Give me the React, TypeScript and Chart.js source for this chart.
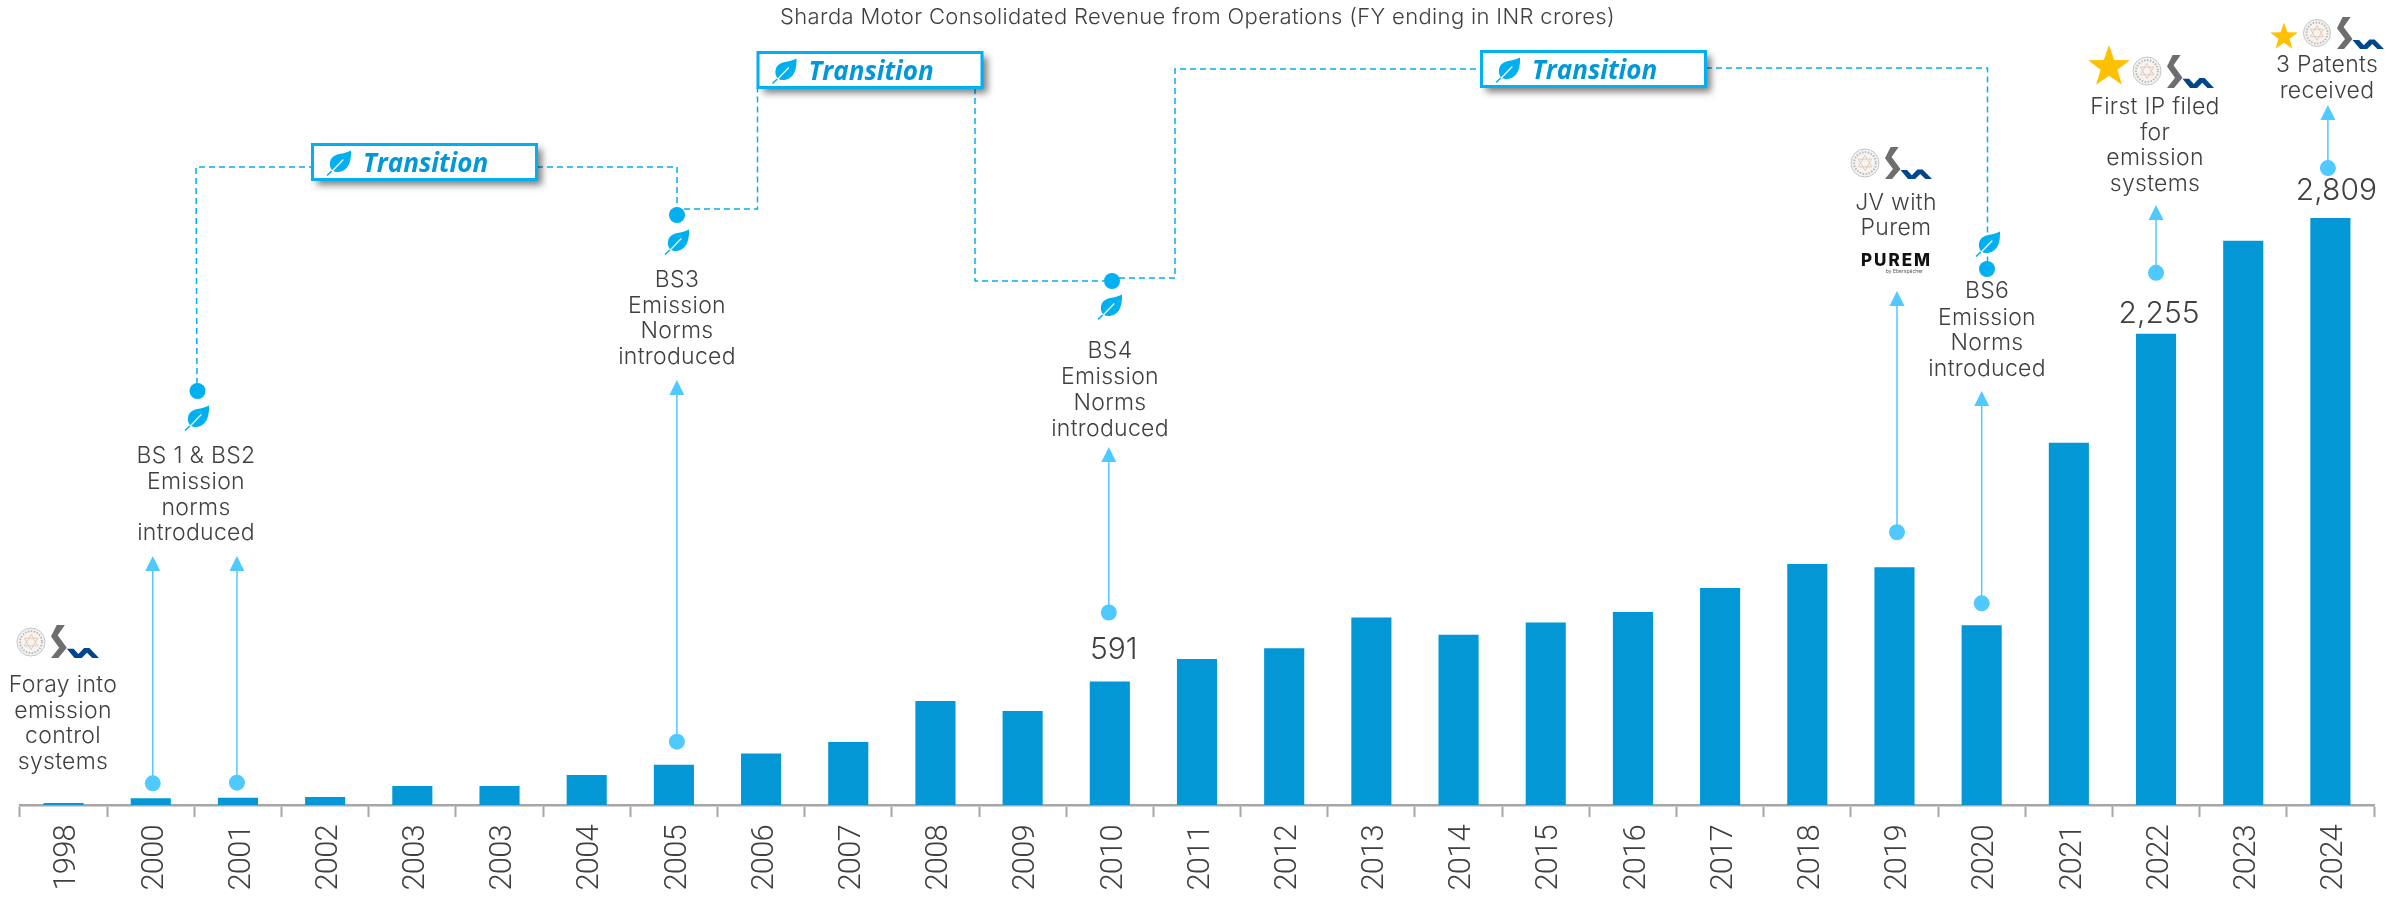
import React, { useEffect, useRef } from "react";
import { Chart, registerables } from "chart.js";

Chart.register(...registerables);

const categories = ["1998","2000","2001","2002","2003","2003","2004","2005","2006","2007","2008","2009","2010","2011","2012","2013","2014","2015","2016","2017","2018","2019","2020","2021","2022","2023","2024"];
const revenue = [10,32,35,38,91,91,144,193,246,302,498,450,591,699,750,897,815,873,924,1039,1154,1138,860,1734,2255,2700,2809];
const titleText = "Sharda Motor Consolidated Revenue from Operations (FY ending in INR crores)";

const valueLabels = [
  { i: 12, text: "591", dx: 4, gap: 32 },
  { i: 24, text: "2,255", dx: 3, gap: 20 },
  { i: 26, text: "2,809", dx: 6, gap: 27 },
];
const arrows = [
  { i: 1, dx: 2, gap: 15, top: 556 },
  { i: 2, dx: -1, gap: 15, top: 556 },
  { i: 7, dx: 3, gap: 23, top: 380 },
  { i: 12, dx: -1, gap: 69, top: 447 },
  { i: 21, dx: 2.5, gap: 35, top: 291 },
  { i: 22, dx: 0, gap: 22, top: 391 },
  { i: 24, dx: 0, gap: 61, top: 205 },
  { i: 26, dx: -2.5, gap: 50, top: 105 },
];
const notes = [
  { x: 63, ys: [685, 711, 736, 762], lines: ["Foray into", "emission", "control", "systems"] },
  { x: 196, ys: [456, 482, 508, 533], lines: ["BS 1 & BS2", "Emission", "norms", "introduced"] },
  { x: 677, ys: [280, 306, 331, 357], lines: ["BS3", "Emission", "Norms", "introduced"] },
  { x: 1110, ys: [351, 377, 403, 429], lines: ["BS4", "Emission", "Norms", "introduced"] },
  { x: 1896, ys: [203, 228], lines: ["JV with", "Purem"] },
  { x: 1987, ys: [291, 318, 343, 369], lines: ["BS6", "Emission", "Norms", "introduced"] },
  { x: 2155, ys: [107, 133, 158, 184], lines: ["First IP filed", "for", "emission", "systems"] },
  { x: 2327, ys: [65, 91], lines: ["3 Patents", "received"] },
];
const transitionBoxes = [
  { x: 312, y: 144 },
  { x: 757.5, y: 52 },
  { x: 1481, y: 51 },
];
const dashedPaths = [
  [[197, 384], [196, 167], [312, 167]],
  [[537, 167], [677, 167], [677, 208]],
  [[684, 209], [757.5, 209], [757.5, 88]],
  [[975, 88], [975, 281], [1104, 281]],
  [[1119, 278], [1175, 278], [1175, 69], [1481, 69]],
  [[1706, 68], [1987.5, 68], [1987.5, 262]],
];
const leafDots = [
  { x: 197.5, y: 391 },
  { x: 677, y: 215 },
  { x: 1112, y: 281 },
  { x: 1987, y: 269 },
];
const leaves = [
  { x: 197, y: 418 },
  { x: 677, y: 242 },
  { x: 1110, y: 307 },
  { x: 1988, y: 244 },
];
const logos = [
  { sealX: 31, sealY: 642, r: 14, x: 51, y: 625, w: 48, h: 33 },
  { sealX: 1865, sealY: 163, r: 14, x: 1885, y: 147, w: 47, h: 32 },
  { sealX: 2147, sealY: 71, r: 14, x: 2167, y: 55, w: 47, h: 33 },
  { sealX: 2317, sealY: 33, r: 13.5, x: 2337, y: 17, w: 47, h: 32 },
];
const stars = [
  { x: 2109, y: 67, r: 22 },
  { x: 2284, y: 37, r: 14.5 },
];

const TEXT = "#404040";
const BAR = "#0397D6";
const AXIS = "#A6A6A6";
const CYAN = "#00B0F0";
const ARROW = "#4FC9FF";
const BODY_FONT = "350 23px Inter";

function drawLeaf(ctx: CanvasRenderingContext2D, cx: number, cy: number) {
  const w = 24, h = 25;
  const X = (v: number) => cx - w / 2 + v * w;
  const Y = (v: number) => cy - h / 2 + v * h;
  ctx.save();
  ctx.fillStyle = CYAN;
  ctx.beginPath();
  ctx.moveTo(X(1), Y(0));
  ctx.bezierCurveTo(X(1.02), Y(0.45), X(0.88), Y(0.86), X(0.42), Y(0.86));
  ctx.bezierCurveTo(X(0.14), Y(0.86), X(0.06), Y(0.58), X(0.16), Y(0.36));
  ctx.bezierCurveTo(X(0.28), Y(0.1), X(0.7), Y(0.16), X(1), Y(0));
  ctx.closePath();
  ctx.fill();
  ctx.strokeStyle = "#FFFFFF";
  ctx.lineWidth = 1.2;
  ctx.beginPath();
  ctx.moveTo(X(0.68), Y(0.36));
  ctx.lineTo(X(0.2), Y(0.84));
  ctx.stroke();
  ctx.strokeStyle = CYAN;
  ctx.lineWidth = 1.6;
  ctx.beginPath();
  ctx.moveTo(X(0.2), Y(0.82));
  ctx.lineTo(X(0), Y(1));
  ctx.stroke();
  ctx.restore();
}

function drawStar(ctx: CanvasRenderingContext2D, cx: number, cy: number, r: number) {
  ctx.save();
  ctx.fillStyle = "#FFC000";
  ctx.beginPath();
  for (let k = 0; k < 10; k++) {
    const rad = k % 2 === 0 ? r : r * 0.4;
    const a = -Math.PI / 2 + (k * Math.PI) / 5;
    const px = cx + rad * Math.cos(a);
    const py = cy + rad * Math.sin(a);
    if (k === 0) ctx.moveTo(px, py);
    else ctx.lineTo(px, py);
  }
  ctx.closePath();
  ctx.fill();
  ctx.restore();
}

function drawSeal(ctx: CanvasRenderingContext2D, cx: number, cy: number, r: number) {
  ctx.save();
  ctx.fillStyle = "#F6F4F2";
  ctx.strokeStyle = "#C4C4C4";
  ctx.lineWidth = 1;
  ctx.beginPath();
  ctx.arc(cx, cy, r, 0, Math.PI * 2);
  ctx.fill();
  ctx.stroke();
  ctx.setLineDash([1.5, 1.5]);
  ctx.strokeStyle = "#B8B8B8";
  ctx.lineWidth = 2;
  ctx.beginPath();
  ctx.arc(cx, cy, r * 0.78, 0, Math.PI * 2);
  ctx.stroke();
  ctx.setLineDash([]);
  ctx.strokeStyle = "#E2C0AA";
  ctx.lineWidth = 0.8;
  for (const off of [-Math.PI / 2, Math.PI / 2]) {
    ctx.beginPath();
    for (let k = 0; k < 3; k++) {
      const a = off + (k * 2 * Math.PI) / 3;
      const px = cx + r * 0.55 * Math.cos(a);
      const py = cy + r * 0.55 * Math.sin(a);
      if (k === 0) ctx.moveTo(px, py);
      else ctx.lineTo(px, py);
    }
    ctx.closePath();
    ctx.stroke();
  }
  ctx.restore();
}

function drawMark(ctx: CanvasRenderingContext2D, x: number, y: number, w: number, h: number) {
  const poly = (pts: number[][], color: string) => {
    ctx.fillStyle = color;
    ctx.beginPath();
    pts.forEach(([u, v], k) => (k === 0 ? ctx.moveTo(x + u * w, y + v * h) : ctx.lineTo(x + u * w, y + v * h)));
    ctx.closePath();
    ctx.fill();
  };
  poly([[0.12, 0], [0.29, 0], [0.14, 0.31], [0.33, 0.69], [0.15, 1], [0, 1], [0.17, 0.69], [0, 0.35]], "#6E6E6E");
  poly([[0.33, 0.72], [0.47, 0.72], [0.57, 0.88], [0.69, 0.7], [0.8, 0.7], [1, 1], [0.86, 1], [0.75, 0.84], [0.64, 1], [0.49, 1]], "#00468E");
}

const annotationPlugin = {
  id: "annotations",
  beforeDraw(chart: any) {
    chart.ctx.letterSpacing = "-0.8px";
  },
  beforeDatasetsDraw(chart: any) {
    chart.ctx.letterSpacing = "0px";
  },
  afterDraw(chart: any) {
    const ctx: any = chart.ctx;
    const xs = chart.scales.x;
    const ys = chart.scales.y;
    ctx.save();

    ctx.textAlign = "center";
    ctx.textBaseline = "middle";
    ctx.fillStyle = TEXT;
    ctx.font = "350 22px Inter";
    ctx.letterSpacing = "0.35px";
    ctx.fillText(titleText, 1197.5, 17);
    ctx.letterSpacing = "0px";

    ctx.strokeStyle = CYAN;
    ctx.lineWidth = 1.5;
    ctx.setLineDash([6, 4]);
    for (const p of dashedPaths) {
      ctx.beginPath();
      p.forEach(([x, y], k) => (k === 0 ? ctx.moveTo(x, y) : ctx.lineTo(x, y)));
      ctx.stroke();
    }
    ctx.setLineDash([]);

    for (const b of transitionBoxes) {
      ctx.save();
      ctx.shadowColor = "rgba(0,0,0,0.5)";
      ctx.shadowBlur = 7;
      ctx.shadowOffsetX = 5;
      ctx.shadowOffsetY = 5;
      ctx.fillStyle = "#FFFFFF";
      ctx.fillRect(b.x, b.y, 225, 36);
      ctx.restore();
      ctx.strokeStyle = CYAN;
      ctx.lineWidth = 3;
      ctx.strokeRect(b.x + 0.5, b.y + 0.5, 224, 35);
      drawLeaf(ctx, b.x + 27, b.y + 19);
      ctx.fillStyle = "#0098D8";
      ctx.textAlign = "left";
      ctx.font = "italic 700 26px 'Open Sans'";
      ctx.fillText("Transition", b.x + 51, b.y + 21);
    }

    ctx.textAlign = "center";
    for (const d of leafDots) {
      ctx.fillStyle = CYAN;
      ctx.beginPath();
      ctx.arc(d.x, d.y, 8, 0, Math.PI * 2);
      ctx.fill();
    }
    for (const l of leaves) drawLeaf(ctx, l.x, l.y);

    for (const a of arrows) {
      const x = xs.getPixelForValue(a.i) + a.dx;
      const dotY = ys.getPixelForValue(revenue[a.i]) - a.gap;
      ctx.strokeStyle = ARROW;
      ctx.fillStyle = ARROW;
      ctx.lineWidth = 1.5;
      ctx.beginPath();
      ctx.moveTo(x, dotY);
      ctx.lineTo(x, a.top + 12);
      ctx.stroke();
      ctx.beginPath();
      ctx.moveTo(x, a.top);
      ctx.lineTo(x + 7.5, a.top + 15);
      ctx.lineTo(x - 7.5, a.top + 15);
      ctx.closePath();
      ctx.fill();
      ctx.beginPath();
      ctx.arc(x, dotY, 8, 0, Math.PI * 2);
      ctx.fill();
    }

    ctx.fillStyle = TEXT;
    ctx.font = BODY_FONT;
    ctx.letterSpacing = "0.3px";
    for (const n of notes) n.lines.forEach((t, k) => ctx.fillText(t, n.x, n.ys[k]));
    ctx.letterSpacing = "0px";

    ctx.font = "300 30px Inter";
    for (const v of valueLabels) {
      const x = xs.getPixelForValue(v.i) + v.dx;
      const y = ys.getPixelForValue(revenue[v.i]) - v.gap;
      ctx.fillText(v.text, x, y);
    }

    for (const s of stars) drawStar(ctx, s.x, s.y, s.r);
    for (const l of logos) {
      drawSeal(ctx, l.sealX, l.sealY, l.r);
      drawMark(ctx, l.x, l.y, l.w, l.h);
    }

    ctx.fillStyle = "#111111";
    ctx.font = "800 17px Inter";
    ctx.textAlign = "left";
    ctx.letterSpacing = "2px";
    ctx.fillText("PUREM", 1861, 261);
    ctx.letterSpacing = "0px";
    ctx.fillStyle = "#555555";
    ctx.font = "5px Inter";
    ctx.textAlign = "right";
    ctx.fillText("by Eberspächer", 1923, 271);
    ctx.restore();
  },
};

export default function App() {
  const ref = useRef<HTMLCanvasElement>(null);
  useEffect(() => {
    const chart = new Chart(ref.current as HTMLCanvasElement, {
      type: "bar",
      data: {
        labels: categories,
        datasets: [
          {
            label: "Revenue from Operations",
            data: revenue,
            backgroundColor: BAR,
            barPercentage: 0.46,
            categoryPercentage: 1,
          },
        ],
      },
      options: {
        responsive: false,
        animation: false,
        layout: { padding: { left: 20, right: 25, top: 10, bottom: 0 } },
        plugins: { legend: { display: false }, tooltip: { enabled: false } },
        scales: {
          x: {
            afterFit: (s: any) => {
              s.height = 99;
            },
            border: { color: AXIS, width: 2.5 },
            grid: { drawOnChartArea: false, color: AXIS, tickLength: 12, tickWidth: 2 },
            ticks: {
              autoSkip: false,
              maxRotation: 90,
              minRotation: 90,
              padding: 8,
              labelOffset: 4,
              color: TEXT,
              font: { family: "Roboto", size: 31, weight: 300 },
            },
          },
          y: { display: false, min: 0, max: 3805 },
        },
      },
      plugins: [annotationPlugin],
    } as any);
    return () => chart.destroy();
  }, []);
  return (
    <div style={{ position: "absolute", left: 0, top: 0, width: 2399, height: 904 }}>
      <canvas ref={ref} width={2399} height={904} style={{ display: "block" }} />
    </div>
  );
}
